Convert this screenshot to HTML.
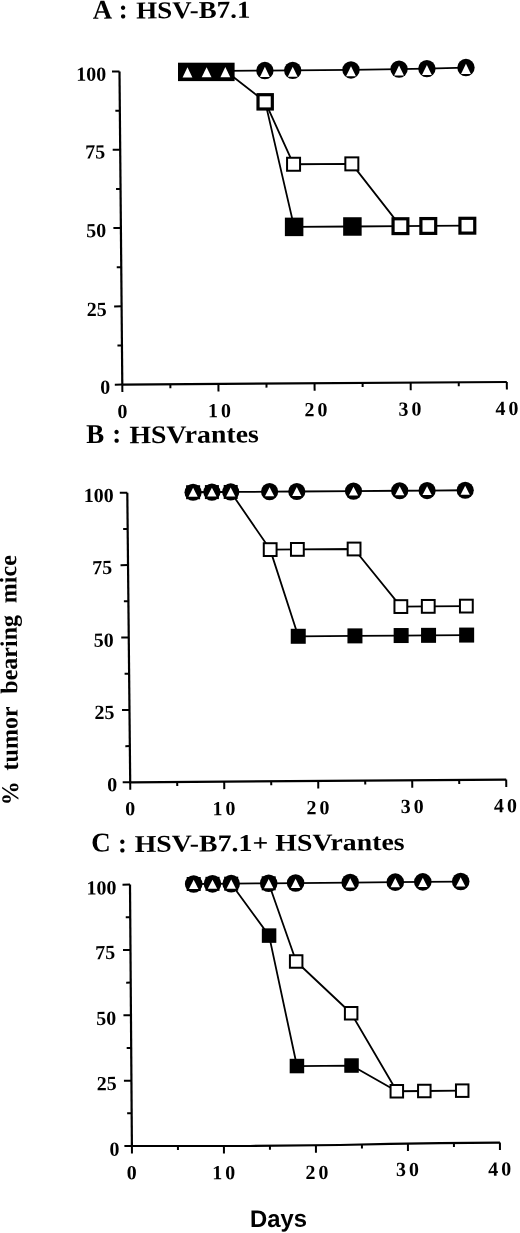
<!DOCTYPE html>
<html><head><meta charset="utf-8"><style>
html,body{margin:0;padding:0;background:#fff;}
svg{display:block;filter:grayscale(1);}
text{font-family:"Liberation Serif",serif;font-weight:bold;}
.xl{letter-spacing:3px;}
.dy{font-family:"Liberation Sans",sans-serif;}
</style></head><body>
<svg width="520" height="1233" viewBox="0 0 520 1233">
<rect width="520" height="1233" fill="#fff"/>
<line x1="119.50" y1="71.50" x2="122.30" y2="384.60" stroke="#000" stroke-width="2.2"/>
<line x1="122.30" y1="384.60" x2="506.80" y2="382.00" stroke="#000" stroke-width="2.2"/>
<line x1="122.30" y1="384.60" x2="114.80" y2="384.65" stroke="#000" stroke-width="2.0"/>
<line x1="121.60" y1="306.33" x2="114.10" y2="306.38" stroke="#000" stroke-width="2.0"/>
<line x1="120.90" y1="228.05" x2="113.40" y2="228.10" stroke="#000" stroke-width="2.0"/>
<line x1="120.20" y1="149.78" x2="112.70" y2="149.83" stroke="#000" stroke-width="2.0"/>
<line x1="119.50" y1="71.50" x2="112.00" y2="71.55" stroke="#000" stroke-width="2.0"/>
<line x1="121.95" y1="345.46" x2="117.45" y2="345.49" stroke="#000" stroke-width="2.0"/>
<line x1="121.25" y1="267.19" x2="116.75" y2="267.22" stroke="#000" stroke-width="2.0"/>
<line x1="120.55" y1="188.91" x2="116.05" y2="188.94" stroke="#000" stroke-width="2.0"/>
<line x1="119.85" y1="110.64" x2="115.35" y2="110.67" stroke="#000" stroke-width="2.0"/>
<line x1="122.30" y1="384.60" x2="122.37" y2="392.10" stroke="#000" stroke-width="2.0"/>
<line x1="218.43" y1="383.95" x2="218.49" y2="391.45" stroke="#000" stroke-width="2.0"/>
<line x1="314.55" y1="383.30" x2="314.62" y2="390.80" stroke="#000" stroke-width="2.0"/>
<line x1="410.68" y1="382.65" x2="410.74" y2="390.15" stroke="#000" stroke-width="2.0"/>
<line x1="506.80" y1="382.00" x2="506.87" y2="389.50" stroke="#000" stroke-width="2.0"/>
<line x1="170.36" y1="384.28" x2="170.40" y2="388.27" stroke="#000" stroke-width="2.0"/>
<line x1="266.49" y1="383.62" x2="266.52" y2="387.62" stroke="#000" stroke-width="2.0"/>
<line x1="362.61" y1="382.98" x2="362.65" y2="386.97" stroke="#000" stroke-width="2.0"/>
<line x1="458.74" y1="382.33" x2="458.77" y2="386.32" stroke="#000" stroke-width="2.0"/>
<polyline points="187.49,71.05 206.61,70.92 225.34,70.79 264.89,70.53 292.72,70.33 351.00,69.94 399.06,69.12 426.90,68.62 465.95,67.56" fill="none" stroke="#000" stroke-width="1.8" stroke-linejoin="round"/>
<polyline points="187.49,71.05 206.61,70.92 225.34,70.79 265.17,101.84 293.56,164.26 351.84,163.87 400.46,226.17 428.30,225.97 467.35,225.71" fill="none" stroke="#000" stroke-width="1.8" stroke-linejoin="round"/>
<polyline points="265.17,101.84 294.12,226.88 352.40,226.49 400.46,226.17" fill="none" stroke="#000" stroke-width="1.8" stroke-linejoin="round"/>
<rect x="178.0" y="62.7" width="56.6" height="18.4" fill="#000"/>
<circle cx="264.89" cy="70.53" r="8.70" fill="#000"/>
<circle cx="292.72" cy="70.33" r="8.70" fill="#000"/>
<circle cx="351.00" cy="69.94" r="8.70" fill="#000"/>
<circle cx="399.06" cy="69.12" r="8.70" fill="#000"/>
<circle cx="426.90" cy="68.62" r="8.70" fill="#000"/>
<circle cx="465.95" cy="67.56" r="8.70" fill="#000"/>
<rect x="258.02" y="94.69" width="14.30" height="14.30" fill="#fff" stroke="#000" stroke-width="3.2"/>
<rect x="287.06" y="157.76" width="13.00" height="13.00" fill="#fff" stroke="#000" stroke-width="2.0"/>
<rect x="345.34" y="157.37" width="13.00" height="13.00" fill="#fff" stroke="#000" stroke-width="2.0"/>
<rect x="284.88" y="217.63" width="18.50" height="18.50" fill="#000"/>
<rect x="343.15" y="217.24" width="18.50" height="18.50" fill="#000"/>
<rect x="393.06" y="218.77" width="14.80" height="14.80" fill="#fff" stroke="#000" stroke-width="3.2"/>
<rect x="420.90" y="218.57" width="14.80" height="14.80" fill="#fff" stroke="#000" stroke-width="3.2"/>
<rect x="459.95" y="218.31" width="14.80" height="14.80" fill="#fff" stroke="#000" stroke-width="3.2"/>
<polygon points="182.59,77.45 192.39,77.45 187.49,67.35" fill="#fff"/>
<polygon points="201.71,77.32 211.51,77.32 206.61,67.22" fill="#fff"/>
<polygon points="220.44,77.19 230.24,77.19 225.34,67.09" fill="#fff"/>
<polygon points="259.99,76.93 269.79,76.93 264.89,66.83" fill="#fff"/>
<polygon points="287.82,76.73 297.62,76.73 292.72,66.63" fill="#fff"/>
<polygon points="346.10,76.34 355.90,76.34 351.00,66.24" fill="#fff"/>
<polygon points="394.16,75.52 403.96,75.52 399.06,65.42" fill="#fff"/>
<polygon points="422.00,75.02 431.80,75.02 426.90,64.92" fill="#fff"/>
<polygon points="461.05,73.96 470.85,73.96 465.95,63.86" fill="#fff"/>
<line x1="127.30" y1="492.70" x2="130.20" y2="782.30" stroke="#000" stroke-width="2.2"/>
<line x1="130.20" y1="782.30" x2="506.20" y2="779.60" stroke="#000" stroke-width="2.2"/>
<line x1="130.20" y1="782.30" x2="122.70" y2="782.35" stroke="#000" stroke-width="2.0"/>
<line x1="129.47" y1="709.90" x2="121.98" y2="709.95" stroke="#000" stroke-width="2.0"/>
<line x1="128.75" y1="637.50" x2="121.25" y2="637.55" stroke="#000" stroke-width="2.0"/>
<line x1="128.02" y1="565.10" x2="120.53" y2="565.15" stroke="#000" stroke-width="2.0"/>
<line x1="127.30" y1="492.70" x2="119.80" y2="492.75" stroke="#000" stroke-width="2.0"/>
<line x1="129.84" y1="746.10" x2="125.34" y2="746.13" stroke="#000" stroke-width="2.0"/>
<line x1="129.11" y1="673.70" x2="124.61" y2="673.73" stroke="#000" stroke-width="2.0"/>
<line x1="128.39" y1="601.30" x2="123.89" y2="601.33" stroke="#000" stroke-width="2.0"/>
<line x1="127.66" y1="528.90" x2="123.16" y2="528.93" stroke="#000" stroke-width="2.0"/>
<line x1="130.20" y1="782.30" x2="130.28" y2="789.80" stroke="#000" stroke-width="2.0"/>
<line x1="224.20" y1="781.62" x2="224.28" y2="789.12" stroke="#000" stroke-width="2.0"/>
<line x1="318.20" y1="780.95" x2="318.28" y2="788.45" stroke="#000" stroke-width="2.0"/>
<line x1="412.20" y1="780.27" x2="412.28" y2="787.77" stroke="#000" stroke-width="2.0"/>
<line x1="506.20" y1="779.60" x2="506.28" y2="787.10" stroke="#000" stroke-width="2.0"/>
<line x1="177.20" y1="781.96" x2="177.24" y2="785.96" stroke="#000" stroke-width="2.0"/>
<line x1="271.20" y1="781.29" x2="271.24" y2="785.29" stroke="#000" stroke-width="2.0"/>
<line x1="365.20" y1="780.61" x2="365.24" y2="784.61" stroke="#000" stroke-width="2.0"/>
<line x1="459.20" y1="779.94" x2="459.24" y2="783.94" stroke="#000" stroke-width="2.0"/>
<polyline points="193.10,492.23 211.90,492.09 230.70,491.96 269.60,491.69 296.80,491.48 353.50,491.08 399.70,490.74 427.10,490.54 465.20,490.27" fill="none" stroke="#000" stroke-width="1.8" stroke-linejoin="round"/>
<polyline points="193.10,492.23 211.90,492.09 230.70,491.96 270.18,549.61 297.38,549.40 354.08,549.00 400.86,606.58 428.26,606.38 466.36,606.11" fill="none" stroke="#000" stroke-width="1.8" stroke-linejoin="round"/>
<polyline points="270.18,549.61 298.25,636.28 354.95,635.88 401.15,635.54 428.55,635.34 466.65,635.07" fill="none" stroke="#000" stroke-width="1.8" stroke-linejoin="round"/>
<rect x="186.10" y="485.23" width="14.00" height="14.00" fill="#000"/>
<rect x="204.90" y="485.09" width="14.00" height="14.00" fill="#000"/>
<rect x="223.70" y="484.96" width="14.00" height="14.00" fill="#000"/>
<circle cx="193.10" cy="492.23" r="8.60" fill="#000"/>
<circle cx="211.90" cy="492.09" r="8.60" fill="#000"/>
<circle cx="230.70" cy="491.96" r="8.60" fill="#000"/>
<circle cx="269.60" cy="491.69" r="8.60" fill="#000"/>
<circle cx="296.80" cy="491.48" r="8.60" fill="#000"/>
<circle cx="353.50" cy="491.08" r="8.60" fill="#000"/>
<circle cx="399.70" cy="490.74" r="8.60" fill="#000"/>
<circle cx="427.10" cy="490.54" r="8.60" fill="#000"/>
<circle cx="465.20" cy="490.27" r="8.60" fill="#000"/>
<rect x="263.78" y="543.21" width="12.80" height="12.80" fill="#fff" stroke="#000" stroke-width="2.0"/>
<rect x="290.98" y="543.00" width="12.80" height="12.80" fill="#fff" stroke="#000" stroke-width="2.0"/>
<rect x="347.68" y="542.60" width="12.80" height="12.80" fill="#fff" stroke="#000" stroke-width="2.0"/>
<rect x="394.46" y="600.18" width="12.80" height="12.80" fill="#fff" stroke="#000" stroke-width="2.0"/>
<rect x="421.86" y="599.98" width="12.80" height="12.80" fill="#fff" stroke="#000" stroke-width="2.0"/>
<rect x="459.96" y="599.71" width="12.80" height="12.80" fill="#fff" stroke="#000" stroke-width="2.0"/>
<rect x="290.75" y="628.78" width="15.00" height="15.00" fill="#000"/>
<rect x="347.45" y="628.38" width="15.00" height="15.00" fill="#000"/>
<rect x="393.65" y="628.04" width="15.00" height="15.00" fill="#000"/>
<rect x="421.05" y="627.84" width="15.00" height="15.00" fill="#000"/>
<rect x="459.15" y="627.57" width="15.00" height="15.00" fill="#000"/>
<polygon points="188.50,496.73 197.70,496.73 193.10,487.83" fill="#fff"/>
<polygon points="207.30,496.59 216.50,496.59 211.90,487.69" fill="#fff"/>
<polygon points="226.10,496.46 235.30,496.46 230.70,487.56" fill="#fff"/>
<polygon points="265.00,496.19 274.20,496.19 269.60,487.29" fill="#fff"/>
<polygon points="292.20,495.98 301.40,495.98 296.80,487.08" fill="#fff"/>
<polygon points="348.90,495.58 358.10,495.58 353.50,486.68" fill="#fff"/>
<polygon points="395.10,495.24 404.30,495.24 399.70,486.34" fill="#fff"/>
<polygon points="422.50,495.04 431.70,495.04 427.10,486.14" fill="#fff"/>
<polygon points="460.60,494.77 469.80,494.77 465.20,485.87" fill="#fff"/>
<line x1="130.00" y1="884.60" x2="131.90" y2="1146.00" stroke="#000" stroke-width="2.2"/>
<polyline points="131.90,1146.00 250.00,1146.00 340.00,1145.00 390.00,1143.80 440.00,1143.10 499.90,1142.60" fill="none" stroke="#000" stroke-width="2.2" stroke-linejoin="round"/>
<line x1="131.90" y1="1146.00" x2="124.40" y2="1146.07" stroke="#000" stroke-width="2.0"/>
<line x1="131.43" y1="1080.65" x2="123.93" y2="1080.72" stroke="#000" stroke-width="2.0"/>
<line x1="130.95" y1="1015.30" x2="123.45" y2="1015.37" stroke="#000" stroke-width="2.0"/>
<line x1="130.47" y1="949.95" x2="122.98" y2="950.02" stroke="#000" stroke-width="2.0"/>
<line x1="130.00" y1="884.60" x2="122.50" y2="884.67" stroke="#000" stroke-width="2.0"/>
<line x1="131.66" y1="1113.33" x2="127.16" y2="1113.37" stroke="#000" stroke-width="2.0"/>
<line x1="131.19" y1="1047.97" x2="126.69" y2="1048.02" stroke="#000" stroke-width="2.0"/>
<line x1="130.71" y1="982.62" x2="126.21" y2="982.67" stroke="#000" stroke-width="2.0"/>
<line x1="130.24" y1="917.27" x2="125.74" y2="917.32" stroke="#000" stroke-width="2.0"/>
<line x1="131.90" y1="1146.00" x2="131.95" y2="1153.50" stroke="#000" stroke-width="2.0"/>
<line x1="223.90" y1="1146.00" x2="223.95" y2="1153.50" stroke="#000" stroke-width="2.0"/>
<line x1="315.90" y1="1145.27" x2="315.95" y2="1152.77" stroke="#000" stroke-width="2.0"/>
<line x1="407.90" y1="1143.55" x2="407.95" y2="1151.05" stroke="#000" stroke-width="2.0"/>
<line x1="499.90" y1="1142.60" x2="499.95" y2="1150.10" stroke="#000" stroke-width="2.0"/>
<line x1="177.90" y1="1146.00" x2="177.93" y2="1150.00" stroke="#000" stroke-width="2.0"/>
<line x1="269.90" y1="1145.78" x2="269.93" y2="1149.78" stroke="#000" stroke-width="2.0"/>
<line x1="361.90" y1="1144.47" x2="361.93" y2="1148.47" stroke="#000" stroke-width="2.0"/>
<line x1="453.90" y1="1142.98" x2="453.93" y2="1146.98" stroke="#000" stroke-width="2.0"/>
<polyline points="193.70,884.00 212.50,883.83 231.20,883.67 268.70,883.32 295.60,883.07 350.20,882.56 395.30,882.14 422.80,881.88 460.70,881.54" fill="none" stroke="#000" stroke-width="1.8" stroke-linejoin="round"/>
<polyline points="268.70,883.32 296.17,961.49 351.15,1013.26 396.82,1091.26 424.32,1091.00 462.22,1090.66" fill="none" stroke="#000" stroke-width="1.8" stroke-linejoin="round"/>
<polyline points="231.20,883.67 269.08,935.60 296.93,1066.05 351.53,1065.54 396.82,1091.26" fill="none" stroke="#000" stroke-width="1.8" stroke-linejoin="round"/>
<rect x="186.70" y="877.00" width="14.00" height="14.00" fill="#000"/>
<rect x="205.50" y="876.83" width="14.00" height="14.00" fill="#000"/>
<rect x="224.20" y="876.67" width="14.00" height="14.00" fill="#000"/>
<rect x="262.70" y="877.32" width="12.00" height="12.00" fill="#fff" stroke="#000" stroke-width="2"/>
<circle cx="193.70" cy="884.00" r="8.80" fill="#000"/>
<circle cx="212.50" cy="883.83" r="8.80" fill="#000"/>
<circle cx="231.20" cy="883.67" r="8.80" fill="#000"/>
<circle cx="268.70" cy="883.32" r="8.80" fill="#000"/>
<circle cx="295.60" cy="883.07" r="8.80" fill="#000"/>
<circle cx="350.20" cy="882.56" r="8.80" fill="#000"/>
<circle cx="395.30" cy="882.14" r="8.80" fill="#000"/>
<circle cx="422.80" cy="881.88" r="8.80" fill="#000"/>
<circle cx="460.70" cy="881.54" r="8.80" fill="#000"/>
<rect x="289.92" y="955.24" width="12.50" height="12.50" fill="#fff" stroke="#000" stroke-width="2.0"/>
<rect x="344.90" y="1007.01" width="12.50" height="12.50" fill="#fff" stroke="#000" stroke-width="2.0"/>
<rect x="390.57" y="1085.01" width="12.50" height="12.50" fill="#fff" stroke="#000" stroke-width="2.0"/>
<rect x="418.07" y="1084.75" width="12.50" height="12.50" fill="#fff" stroke="#000" stroke-width="2.0"/>
<rect x="455.97" y="1084.41" width="12.50" height="12.50" fill="#fff" stroke="#000" stroke-width="2.0"/>
<rect x="261.83" y="928.35" width="14.50" height="14.50" fill="#000"/>
<rect x="289.68" y="1058.80" width="14.50" height="14.50" fill="#000"/>
<rect x="344.28" y="1058.29" width="14.50" height="14.50" fill="#000"/>
<polygon points="189.00,889.00 198.40,889.00 193.70,879.80" fill="#fff"/>
<polygon points="207.80,888.83 217.20,888.83 212.50,879.63" fill="#fff"/>
<polygon points="226.50,888.67 235.90,888.67 231.20,879.47" fill="#fff"/>
<polygon points="264.00,888.32 273.40,888.32 268.70,879.12" fill="#fff"/>
<polygon points="290.90,888.07 300.30,888.07 295.60,878.87" fill="#fff"/>
<polygon points="345.50,887.56 354.90,887.56 350.20,878.36" fill="#fff"/>
<polygon points="390.60,887.14 400.00,887.14 395.30,877.94" fill="#fff"/>
<polygon points="418.10,886.88 427.50,886.88 422.80,877.68" fill="#fff"/>
<polygon points="456.00,886.54 465.40,886.54 460.70,877.34" fill="#fff"/>
<text transform="translate(91.15,80.70) rotate(-0.45)" class="yl" font-size="20.00" text-anchor="middle">100</text>
<text transform="translate(95.15,158.40) rotate(-0.45)" class="yl" font-size="20.00" text-anchor="middle">75</text>
<text transform="translate(96.15,237.05) rotate(-0.45)" class="yl" font-size="20.00" text-anchor="middle">50</text>
<text transform="translate(96.70,315.95) rotate(-0.45)" class="yl" font-size="20.00" text-anchor="middle">25</text>
<text transform="translate(105.35,393.70) rotate(-0.45)" class="yl" font-size="20.00" text-anchor="middle">0</text>
<text transform="translate(124.00,418.00) rotate(-0.45)" class="xl" font-size="20.00" text-anchor="middle">0</text>
<text transform="translate(221.00,417.25) rotate(-0.45)" class="xl" font-size="20.00" text-anchor="middle">10</text>
<text transform="translate(317.38,416.25) rotate(-0.45)" class="xl" font-size="20.00" text-anchor="middle">20</text>
<text transform="translate(411.50,415.62) rotate(-0.45)" class="xl" font-size="20.00" text-anchor="middle">30</text>
<text transform="translate(508.38,415.00) rotate(-0.45)" class="xl" font-size="20.00" text-anchor="middle">40</text>
<text transform="translate(98.73,501.95) rotate(-0.45)" class="yl" font-size="20.00" text-anchor="middle">100</text>
<text transform="translate(102.25,574.10) rotate(-0.45)" class="yl" font-size="20.00" text-anchor="middle">75</text>
<text transform="translate(103.85,646.70) rotate(-0.45)" class="yl" font-size="20.00" text-anchor="middle">50</text>
<text transform="translate(104.50,719.00) rotate(-0.45)" class="yl" font-size="20.00" text-anchor="middle">25</text>
<text transform="translate(112.15,791.25) rotate(-0.45)" class="yl" font-size="20.00" text-anchor="middle">0</text>
<text transform="translate(131.65,815.10) rotate(-0.45)" class="xl" font-size="20.00" text-anchor="middle">0</text>
<text transform="translate(225.45,815.10) rotate(-0.45)" class="xl" font-size="20.00" text-anchor="middle">10</text>
<text transform="translate(319.53,814.25) rotate(-0.45)" class="xl" font-size="20.00" text-anchor="middle">20</text>
<text transform="translate(413.69,813.00) rotate(-0.45)" class="xl" font-size="20.00" text-anchor="middle">30</text>
<text transform="translate(507.00,812.25) rotate(-0.45)" class="xl" font-size="20.00" text-anchor="middle">40</text>
<text transform="translate(101.38,894.40) rotate(-0.45)" class="yl" font-size="20.00" text-anchor="middle">100</text>
<text transform="translate(105.30,959.05) rotate(-0.45)" class="yl" font-size="20.00" text-anchor="middle">75</text>
<text transform="translate(106.30,1024.80) rotate(-0.45)" class="yl" font-size="20.00" text-anchor="middle">50</text>
<text transform="translate(106.85,1090.05) rotate(-0.45)" class="yl" font-size="20.00" text-anchor="middle">25</text>
<text transform="translate(114.50,1155.70) rotate(-0.45)" class="yl" font-size="20.00" text-anchor="middle">0</text>
<text transform="translate(133.31,1179.25) rotate(-0.45)" class="xl" font-size="20.00" text-anchor="middle">0</text>
<text transform="translate(225.31,1179.25) rotate(-0.45)" class="xl" font-size="20.00" text-anchor="middle">10</text>
<text transform="translate(318.38,1179.00) rotate(-0.45)" class="xl" font-size="20.00" text-anchor="middle">20</text>
<text transform="translate(409.00,1175.88) rotate(-0.45)" class="xl" font-size="20.00" text-anchor="middle">30</text>
<text transform="translate(501.19,1175.62) rotate(-0.45)" class="xl" font-size="20.00" text-anchor="middle">40</text>
<text transform="translate(102.57,18.70) rotate(-0.45)" class="ti" font-size="27.00" text-anchor="middle">A</text>
<text transform="translate(193.38,18.05) rotate(-0.45) scale(1.1154,1)" class="ti" font-size="24.17" text-anchor="middle">HSV-B7.1</text>
<text transform="translate(95.35,443.00) rotate(-0.45)" class="ti" font-size="27.00" text-anchor="middle">B</text>
<text transform="translate(194.20,442.75) rotate(-0.45) scale(1.1100,1)" class="ti" font-size="25.11" text-anchor="middle">HSVrantes</text>
<text transform="translate(101.05,851.35) rotate(-0.45)" class="ti" font-size="27.00" text-anchor="middle">C</text>
<text transform="translate(269.65,850.85) rotate(-0.45) scale(1.1564,1)" class="ti" font-size="24.07" text-anchor="middle">HSV-B7.1+ HSVrantes</text>
<text transform="translate(278.55,1226.80) rotate(-0.45)" class="dy" font-size="23.95" text-anchor="middle">Days</text>
<text transform="translate(123.35,18.20) rotate(-0.45)" class="ti" font-size="27.00" text-anchor="middle">:</text>
<text transform="translate(116.80,442.35) rotate(-0.45)" class="ti" font-size="27.00" text-anchor="middle">:</text>
<text transform="translate(122.45,852.25) rotate(-0.45)" class="ti" font-size="27.00" text-anchor="middle">:</text>
<text transform="translate(18.13,805.30) rotate(-90.45)" font-size="24.04">%</text>
<text transform="translate(17.88,770.40) rotate(-90.45)" font-size="24.04">tumor</text>
<text transform="translate(17.28,693.70) rotate(-90.45)" font-size="24.04">bearing</text>
<text transform="translate(16.58,603.20) rotate(-90.45)" font-size="24.04">mice</text>
</svg>
</body></html>
